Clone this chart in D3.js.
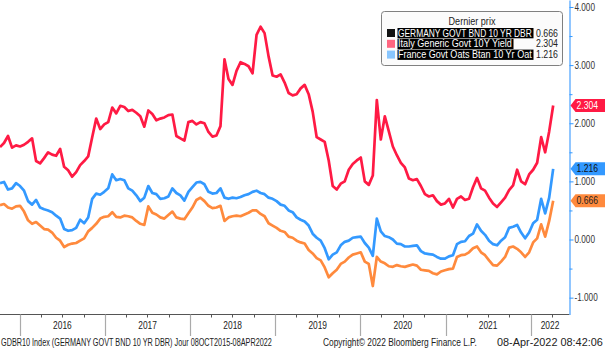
<!DOCTYPE html>
<html>
<head>
<meta charset="utf-8">
<script src="https://cdn.jsdelivr.net/npm/d3@7"></script>
<style>
  body { margin: 0; background: #fff; }
  svg { display: block; font-family: "Liberation Sans", Arial, sans-serif; }
</style>
</head>
<body>
<div id="chart"></div>
<script>
// --- data (10Y yields, %) ---
const startDay = "2015-10-08";
const endDay = "2022-04-08";
const axisEndDay = "2022-06-17";

const germany = [0.59,0.61,0.55,0.53,0.57,0.58,0.48,0.33,0.27,0.30,
  0.24,0.18,0.17,0.12,0.03,-0.02,-0.13,-0.09,-0.07,-0.06,
  -0.02,0.02,0.14,0.20,0.27,0.36,0.39,0.40,0.47,0.39,
  0.38,0.41,0.40,0.38,0.32,0.27,0.25,0.57,0.46,0.43,
  0.38,0.36,0.42,0.48,0.38,0.36,0.35,0.45,0.55,0.68,
  0.72,0.66,0.58,0.54,0.55,0.58,0.32,0.38,0.40,0.41,
  0.40,0.43,0.46,0.50,0.50,0.44,0.40,0.28,0.24,0.20,
  0.15,0.13,0.05,0.03,-0.02,-0.05,-0.07,-0.18,-0.24,-0.32,
  -0.36,-0.48,-0.65,-0.58,-0.52,-0.42,-0.38,-0.31,-0.26,-0.24,
  -0.22,-0.38,-0.42,-0.80,-0.30,-0.38,-0.41,-0.46,-0.47,-0.44,
  -0.46,-0.47,-0.45,-0.43,-0.45,-0.52,-0.53,-0.54,-0.58,-0.60,
  -0.55,-0.53,-0.51,-0.50,-0.30,-0.27,-0.26,-0.22,-0.15,-0.12,
  -0.22,-0.27,-0.36,-0.44,-0.45,-0.38,-0.30,-0.14,-0.12,-0.16,
  -0.22,-0.30,-0.22,-0.05,0.02,0.26,0.05,0.32,0.666];

const italy = [1.59,1.66,1.78,1.58,1.62,1.60,1.63,1.68,1.74,1.35,
  1.31,1.40,1.50,1.46,1.44,1.56,1.25,1.19,1.08,1.16,
  1.28,1.35,1.43,1.76,2.08,1.90,1.98,2.02,2.27,2.17,
  2.30,2.28,2.21,2.23,2.18,2.12,1.94,2.22,2.16,2.05,
  2.08,2.10,2.14,2.15,1.78,1.74,1.70,2.02,2.04,1.98,
  2.02,2.00,1.85,1.77,1.79,1.95,3.10,2.76,2.66,2.90,
  3.05,3.02,2.98,2.86,3.52,3.66,3.55,3.15,2.82,2.80,
  2.84,2.70,2.52,2.48,2.50,2.60,2.66,2.50,2.20,1.76,
  1.72,1.68,1.36,0.92,0.86,0.96,1.00,1.20,1.30,1.36,
  1.41,1.00,0.94,1.10,2.40,1.72,2.12,1.86,1.60,1.45,
  1.32,1.24,1.05,1.02,1.04,0.92,0.78,0.74,0.76,0.66,
  0.60,0.62,0.70,0.55,0.70,0.74,0.68,0.70,0.90,1.06,
  0.88,0.84,0.72,0.62,0.56,0.64,0.72,0.85,0.93,1.20,
  1.00,0.95,1.12,1.20,1.32,1.76,1.50,1.86,2.304];

const france = [0.97,0.99,0.86,0.88,0.97,0.92,0.84,0.66,0.60,0.68,
  0.55,0.52,0.50,0.47,0.41,0.36,0.18,0.15,0.16,0.20,
  0.34,0.28,0.38,0.70,0.79,0.77,0.82,0.88,1.12,1.02,
  1.04,1.02,0.88,0.84,0.76,0.66,0.72,0.92,0.80,0.78,
  0.70,0.71,0.74,0.88,0.80,0.76,0.67,0.82,0.90,0.98,
  0.99,0.95,0.82,0.79,0.80,0.88,0.72,0.70,0.72,0.71,
  0.73,0.76,0.78,0.82,0.84,0.80,0.78,0.72,0.70,0.66,
  0.60,0.58,0.50,0.47,0.38,0.34,0.31,0.24,0.10,0.03,
  -0.02,-0.15,-0.34,-0.26,-0.22,-0.10,-0.04,-0.02,0.03,0.04,
  0.05,-0.06,-0.14,-0.28,0.36,0.14,0.06,0.04,0.00,-0.07,
  -0.08,-0.12,-0.12,-0.11,-0.10,-0.20,-0.24,-0.25,-0.26,-0.30,
  -0.33,-0.33,-0.29,-0.27,-0.08,-0.04,-0.03,0.06,0.10,0.26,
  0.15,0.08,-0.02,-0.08,-0.10,-0.02,0.04,0.20,0.22,0.25,
  0.12,0.02,0.12,0.28,0.34,0.70,0.45,0.72,1.216];

const legendTitle = "Dernier prix";
const legendLabels = ["GERMANY GOVT BND 10 YR DBR", "Italy Generic Govt 10Y Yield", "France Govt Oats Btan 10 Yr Oat"];
const lastValues = [0.666, 2.304, 1.216];
const yTicks = [-1, 0, 1, 2, 3, 4];
const yMinorTicks = [-0.5, 0.5, 1.5, 2.5, 3.5];
const footerTexts = ["GDBR10 Index (GERMANY GOVT BND 10 YR DBR)  Jour 08OCT2015-08APR2022",
  "Copyright\u00a9 2022 Bloomberg Finance L.P.", "08-Apr-2022 08:42:06"];

// --- layout ---
const W = 605, H = 350;
const plotR = 569.5, plotB = 314.5;
const lineColors = ["#ff8a3d", "#ff1a44", "#3399ff"];   // germany, italy, france
const swatchColors = ["#111111", "#ff6680", "#88c6ff"];
const tagText = ["#222", "#fff", "#111"];

const svg = d3.select("#chart").append("svg")
  .attr("width", W).attr("height", H);

const parse = d3.utcParse("%Y-%m-%d");
const t0 = parse(startDay), t1 = parse(endDay), tEnd = parse(axisEndDay);

const x = d3.scaleUtc().domain([t0, tEnd]).range([0, plotR]);
const y = d3.scaleLinear().domain([-1.29, 4.12]).range([plotB, 0]);

const n = italy.length;
const dayAt = d3.scaleLinear().domain([0, n - 1]).range([+t0, +t1]);
const dates = d3.range(n).map(i => new Date(dayAt(i)));

// the Bloomberg font is narrow: squeeze horizontally around the anchor point
function squeeze(sel, k) {
  sel.each(function() {
    const t = d3.select(this);
    const ax = +t.attr("x") || 0, ay = +t.attr("y") || 0;
    t.attr("transform", `translate(${ax},${ay}) scale(${k},1) translate(${-ax},${-ay})`);
  });
}
function fit(sel, w) {
  sel.each(function() {
    const k = w / this.getComputedTextLength();
    d3.select(this).call(squeeze, k);
  });
}

// lines
const line = d3.line()
  .x((d, i) => x(dates[i]))
  .y(d => y(d));

[germany, france, italy].forEach((s, k) => {
  const ci = [0, 2, 1][k];
  svg.append("path")
    .datum(s)
    .attr("fill", "none")
    .attr("stroke", lineColors[ci])
    .attr("stroke-width", 2.7)
    .attr("stroke-linejoin", "round")
    .attr("d", line);
});

// bottom axis
const bottom = svg.append("g");
bottom.append("line")
  .attr("x1", 0).attr("x2", plotR)
  .attr("y1", plotB).attr("y2", plotB)
  .attr("stroke", "#555").attr("stroke-width", 1);

const quarters = d3.utcMonth.every(3).range(t0, tEnd);
bottom.selectAll(".qt")
  .data(quarters)
  .join("line")
  .attr("x1", d => Math.round(x(d)) + 0.5).attr("x2", d => Math.round(x(d)) + 0.5)
  .attr("y1", plotB).attr("y2", plotB + 3)
  .attr("stroke", "#555");

const years = d3.utcYear.range(t0, tEnd);
bottom.selectAll(".yr")
  .data(years)
  .join("line")
  .attr("x1", d => Math.round(x(d)) + 0.5).attr("x2", d => Math.round(x(d)) + 0.5)
  .attr("y1", plotB).attr("y2", 336)
  .attr("stroke", "#aaa").attr("stroke-width", 1.2);

bottom.selectAll(".yl")
  .data(years)
  .join("text")
  .attr("x", d => {
    const nxt = d3.utcYear.offset(d, 1);
    return (x(d) + x(nxt < tEnd ? nxt : tEnd)) / 2;
  })
  .attr("y", 329)
  .attr("text-anchor", "middle")
  .attr("fill", "#222")
  .style("font-size", "10px")
  .text(d => d.getUTCFullYear())
  .call(squeeze, 0.84);

// right axis
const right = svg.append("g").attr("transform", `translate(${plotR},0)`);
right.call(d3.axisRight(y).tickValues(yTicks).tickSize(4).tickSizeOuter(0)
  .tickFormat(d => d.toFixed(3)));
right.call(g => {
  g.select(".domain").attr("stroke", "#55a8ff").attr("stroke-width", 1.3);
  g.selectAll(".tick line").attr("stroke", "#3399ff");
  g.selectAll(".tick text").attr("fill", "#333").attr("x", 5)
    .style("font-size", "10px").style("font-family", "'Liberation Sans', Arial, sans-serif")
    .call(squeeze, 0.82);
});
svg.append("g").attr("transform", `translate(${plotR},0)`)
  .call(d3.axisRight(y).tickValues(yMinorTicks).tickSize(3).tickFormat(""))
  .call(g => {
    g.select(".domain").remove();
    g.selectAll(".tick line").attr("stroke", "#3399ff");
  });

// last value tags
[0, 1, 2].forEach(k => {
  const cy = y(lastValues[k]);
  const tag = svg.append("g");
  tag.append("path")
    .attr("d", `M${plotR + 1},${cy} L${plotR + 6},${cy - 6.5} L${W},${cy - 6.5} L${W},${cy + 6.5} L${plotR + 6},${cy + 6.5} Z`)
    .attr("fill", lineColors[k]);
  tag.append("text")
    .attr("x", plotR + 7).attr("y", cy + 3.6)
    .attr("fill", tagText[k])
    .style("font-size", "10px")
    .text(lastValues[k].toFixed(3))
    .call(squeeze, 0.86);
});

// legend
const lg = svg.append("g").attr("transform", "translate(381.5,11.5)");
lg.append("rect")
  .attr("width", 181).attr("height", 54).attr("rx", 3)
  .attr("fill", "#fbfbfb").attr("stroke", "#808080");
lg.append("text")
  .attr("x", 90.5).attr("y", 14)
  .attr("text-anchor", "middle")
  .attr("fill", "#222")
  .style("font-size", "10px")
  .text(legendTitle)
  .call(fit, 47);

const labelWidths = [136, 116, 136];
legendLabels.forEach((lab, k) => {
  const cy = 21.5 + k * 10.8;
  lg.append("rect")
    .attr("x", 5.5).attr("y", cy - 4).attr("width", 8).attr("height", 8)
    .attr("fill", swatchColors[k]);
  lg.append("rect")
    .attr("x", 16).attr("y", cy - 5).attr("width", labelWidths[k]).attr("height", 10.3)
    .attr("fill", "#000");
  lg.append("text")
    .attr("x", 16.5).attr("y", cy + 3.6)
    .attr("fill", "#fff")
    .style("font-size", "10px")
    .text(lab)
    .call(fit, labelWidths[k] - 2);
  lg.append("text")
    .attr("x", 176.5).attr("y", cy + 3.6)
    .attr("text-anchor", "end")
    .attr("fill", "#222")
    .style("font-size", "10px")
    .text(lastValues[k].toFixed(3))
    .call(fit, 22);
});

// footer
const footX = [1, 323, 497];
const footW = [271, 154, 106];
footerTexts.forEach((t, k) => {
  svg.append("text")
    .attr("x", footX[k]).attr("y", 346)
    .attr("fill", "#222")
    .style("font-size", "10px")
    .text(t)
    .call(fit, footW[k]);
});
</script>
</body>
</html>
